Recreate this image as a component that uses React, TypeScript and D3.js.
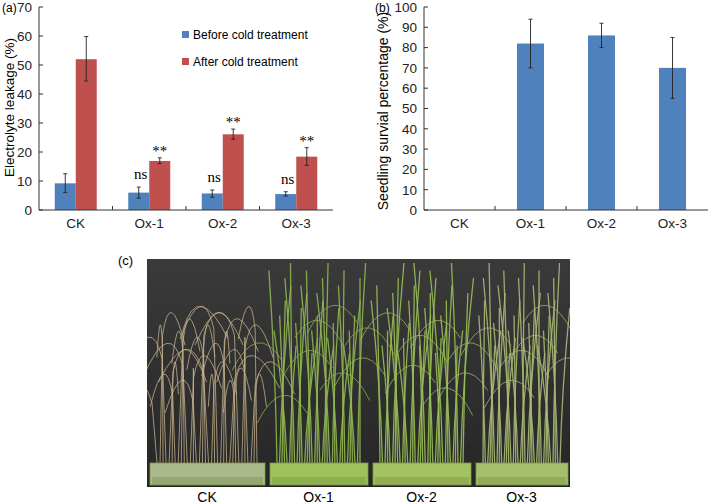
import React from "react";
import * as d3 from "d3";

const lines = ["CK", "Ox-1", "Ox-2", "Ox-3"];

// (a) electrolyte leakage
const beforeMean = [9.2, 6.0, 5.7, 5.5];
const beforeLow = [6.0, 4.1, 4.4, 4.8];
const beforeHigh = [12.5, 7.9, 6.9, 6.3];
const afterMean = [52, 16.9, 26.1, 18.4];
const afterLow = [44.5, 16.0, 24.4, 15.4];
const afterHigh = [59.8, 18.0, 27.9, 21.5];
const signif = ["", "**", "**", "**"];
const signifBefore = ["", "ns", "ns", "ns"];
const leakTicks = [0, 10, 20, 30, 40, 50, 60, 70];

// (b) survival
const survMean = [0, 82, 86, 70];
const survLow = [0, 70, 80, 55];
const survHigh = [0, 94, 92, 85];
const survTicks = [0, 10, 20, 30, 40, 50, 60, 70, 80, 90, 100];

const BLUE = "#4f81bd";
const RED = "#c0504d";
const SANS = "'Liberation Sans', Arial, sans-serif";
const SERIF = "'Liberation Serif', 'Times New Roman', serif";

function ErrBar({ x, y0, y1 }: { x: number; y0: number; y1: number }) {
  return (
    <g stroke="#222" strokeWidth={0.9}>
      <line x1={x} x2={x} y1={y0} y2={y1} />
      <line x1={x - 2} x2={x + 2} y1={y0} y2={y0} />
      <line x1={x - 2} x2={x + 2} y1={y1} y2={y1} />
    </g>
  );
}

function Axes({ x, y, ticks, left, right, bottom }: any) {
  const bw = x.step();
  return (
    <g fontFamily={SANS} fontSize={13.5} fill="#222">
      <line x1={left} x2={left} y1={y(ticks[ticks.length - 1])} y2={bottom} stroke="#333" />
      <line x1={left} x2={right} y1={bottom} y2={bottom} stroke="#333" />
      {ticks.map((t: number) => (
        <g key={t}>
          <line x1={left} x2={left + 4} y1={y(t)} y2={y(t)} stroke="#333" />
          <text x={left - 7} y={y(t)} dy="0.36em" textAnchor="end">{t}</text>
        </g>
      ))}
      {lines.map((c, i) => (
        <g key={c}>
          {i > 0 && <line x1={x(c)!} x2={x(c)!} y1={bottom} y2={bottom - 4} stroke="#333" />}
          <text x={x(c)! + bw / 2} y={bottom + 18} textAnchor="middle">{c}</text>
        </g>
      ))}
    </g>
  );
}

function PanelA() {
  const left = 39, right = 333, bottom = 210;
  const x = d3.scaleBand<string>().domain(lines).range([left, right]);
  const y = d3.scaleLinear().domain([0, 70]).range([bottom, 7]);
  const w = 21;
  return (
    <g>
      <text x={2} y={12} fontFamily={SANS} fontSize={12}>(a)</text>
      <text transform={`translate(14,${(bottom + 5) / 2}) rotate(-90)`} textAnchor="middle"
        fontFamily={SANS} fontSize={13.5}>Electrolyte leakage (%)</text>
      {lines.map((c, i) => {
        const cx = x(c)! + x.bandwidth() / 2;
        return (
          <g key={c}>
            <rect x={cx - w} y={y(beforeMean[i])} width={w} height={bottom - y(beforeMean[i])} fill={BLUE} />
            <rect x={cx} y={y(afterMean[i])} width={w} height={bottom - y(afterMean[i])} fill={RED} />
            <ErrBar x={cx - w / 2} y0={y(beforeLow[i])} y1={y(beforeHigh[i])} />
            <ErrBar x={cx + w / 2} y0={y(afterLow[i])} y1={y(afterHigh[i])} />
            <text x={cx + w / 2} y={y(afterHigh[i]) - 2} textAnchor="middle" fontFamily={SERIF} fontSize={15}>{signif[i]}</text>
            <text x={cx - w / 2 + 2} y={y(beforeHigh[i]) - 8} textAnchor="middle" fontFamily={SERIF} fontSize={15}>{signifBefore[i]}</text>
          </g>
        );
      })}
      <Axes x={x} y={y} ticks={leakTicks} left={left} right={right} bottom={bottom} />
      <g fontFamily={SANS} fontSize={12}>
        <rect x={182} y={31} width={7} height={7} fill={BLUE} />
        <text x={193} y={39}>Before cold treatment</text>
        <rect x={182} y={58} width={7} height={7} fill={RED} />
        <text x={193} y={66}>After cold treatment</text>
      </g>
    </g>
  );
}

function PanelB() {
  const left = 424, right = 708, bottom = 210;
  const x = d3.scaleBand<string>().domain(lines).range([left, right]);
  const y = d3.scaleLinear().domain([0, 100]).range([bottom, 7]);
  const w = 27;
  return (
    <g>
      <text x={375} y={12} fontFamily={SANS} fontSize={12}>(b)</text>
      <text transform={`translate(388,${111}) rotate(-90)`} textAnchor="middle"
        fontFamily={SANS} fontSize={14}>Seedling survial percentage (%)</text>
      {lines.map((c, i) => {
        const cx = x(c)! + x.bandwidth() / 2;
        if (survMean[i] === 0) return null;
        return (
          <g key={c}>
            <rect x={cx - w / 2} y={y(survMean[i])} width={w} height={bottom - y(survMean[i])} fill={BLUE} />
            <ErrBar x={cx} y0={y(survLow[i])} y1={y(survHigh[i])} />
          </g>
        );
      })}
      <Axes x={x} y={y} ticks={survTicks} left={left} right={right} bottom={bottom} />
    </g>
  );
}

// (c) photograph, drawn as a stylised scene
const trayEdges = [147, 267, 370, 473, 570];
const bladeColor = ["#c8b48c", "#8fb650", "#98be55", "#a9b874"];
const trayColor = ["#a9b98c", "#9fc25a", "#a3c262", "#a5bf6a"];
const bladeCount = 34;

function PanelC() {
  const top = 259, bot = 487, trayTop = 463;
  const blades: React.ReactNode[] = [];
  lines.forEach((c, g) => {
    const x0 = trayEdges[g] + 10, x1 = trayEdges[g + 1] - 10;
    const bx = d3.scaleLinear().domain([0, bladeCount - 1]).range([x0, x1]);
    for (let i = 0; i < bladeCount; i++) {
      const h = 0.55 + 0.45 * (((i * 37 + g * 11) % 13) / 12);
      const s = ((i * 131 + g * 71) % 17) / 16 - 0.5;
      const xs = bx(i);
      if (g === 0) {
        // withered, drooping leaves
        const tipY = trayTop - (trayTop - top - 40) * h;
        const lean = s * 100;
        blades.push(
          <path key={`${g}-${i}`}
            d={`M${xs},${trayTop} L${xs + lean * 0.1},${tipY + 30} Q${xs + lean * 0.4},${tipY - 20} ${xs + lean},${tipY + 40}`}
            fill="none" stroke={bladeColor[g]} strokeWidth={0.9} opacity={0.85} />
        );
      } else {
        const tipY = trayTop - (trayTop - top - 4) * h;
        const lean = s * 26;
        blades.push(
          <path key={`${g}-${i}`}
            d={`M${xs},${trayTop} Q${xs + lean * 0.2},${(tipY + trayTop) / 2} ${xs + lean},${tipY}`}
            fill="none" stroke={bladeColor[g]} strokeWidth={1.3} opacity={0.9} />
        );
        if (i % 5 === 2) {
          const dir = i % 2 ? 1 : -1;
          blades.push(
            <path key={`${g}-${i}a`}
              d={`M${xs},${tipY + 60} Q${xs + dir * 25},${tipY + 20} ${xs + dir * 50},${tipY + 70}`}
              fill="none" stroke={bladeColor[g]} strokeWidth={1} opacity={0.75} />
          );
        }
      }
    }
  });
  return (
    <g>
      <text x={118} y={265} fontFamily={SANS} fontSize={13}>(c)</text>
      <defs>
        <linearGradient id="bg" x1="0" x2="0" y1="0" y2="1">
          <stop offset="0" stopColor="#3a3a3a" />
          <stop offset="1" stopColor="#262626" />
        </linearGradient>
        <clipPath id="photo">
          <rect x={trayEdges[0]} y={top} width={trayEdges[4] - trayEdges[0]} height={bot - top} />
        </clipPath>
      </defs>
      <g clipPath="url(#photo)">
        <rect x={trayEdges[0]} y={top} width={trayEdges[4] - trayEdges[0]} height={bot - top} fill="url(#bg)" />
        {blades}
        {lines.map((c, g) => (
          <g key={c}>
            <rect x={trayEdges[g] + 3} y={trayTop} width={trayEdges[g + 1] - trayEdges[g] - 5} height={bot - trayTop - 2}
              fill={trayColor[g]} stroke="#7f9a4a" strokeWidth={0.8} />
            <rect x={trayEdges[g] + 5} y={trayTop + 14} width={trayEdges[g + 1] - trayEdges[g] - 9} height={8}
              fill="#6f8a3c" opacity={0.35} />
          </g>
        ))}
      </g>
      {lines.map((c, g) => (
        <text key={c} x={(trayEdges[g] + trayEdges[g + 1]) / 2} y={502} fontFamily={SANS} fontSize={14}
          textAnchor="middle">{c}</text>
      ))}
    </g>
  );
}

export default function App() {
  return (
    <svg width={709} height={504} style={{ position: "absolute", left: 0, top: 0, background: "#fff" }}>
      <PanelA />
      <PanelB />
      <PanelC />
    </svg>
  );
}
